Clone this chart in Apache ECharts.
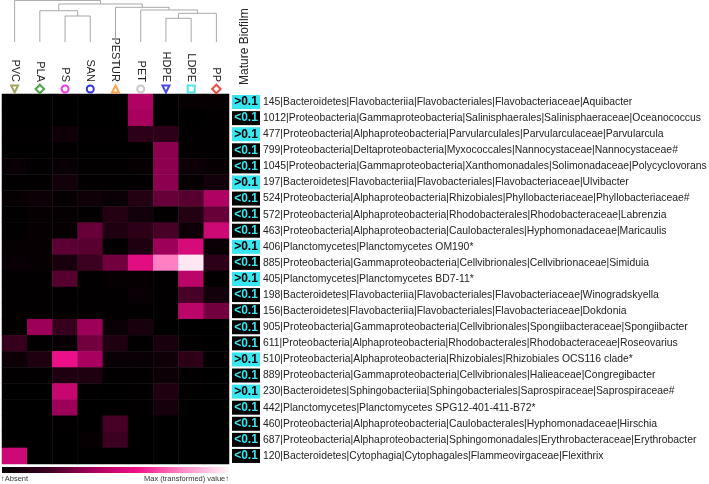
<!DOCTYPE html>
<html><head><meta charset="utf-8">
<script src="https://cdn.jsdelivr.net/npm/echarts@6/dist/echarts.min.js"></script>
<style>html,body{margin:0;padding:0;background:#fff}#c{width:709px;height:484px}</style>
</head><body><div id="c"></div>
<script>
const materials = ['PVC','PLA','PS','SAN','PESTUR','PET','HDPE','LDPE','PP'];
const matSymbols = ['triangle','rect','circle','circle','triangle','circle','triangle','rect','rect'];
const matRotate = [180,45,0,0,0,0,180,0,45];
const matColors = ['#8c8c40','#1e8c1e','#f000f0','#0000c8','#ff8c1a','#bcbcbc','#1a1ae8','#22dde8','#e82020'];
const taxa = [
 '145|Bacteroidetes|Flavobacteriia|Flavobacteriales|Flavobacteriaceae|Aquibacter',
 '1012|Proteobacteria|Gammaproteobacteria|Salinisphaerales|Salinisphaeraceae|Oceanococcus',
 '477|Proteobacteria|Alphaproteobacteria|Parvularculales|Parvularculaceae|Parvularcula',
 '799|Proteobacteria|Deltaproteobacteria|Myxococcales|Nannocystaceae|Nannocystaceae#',
 '1045|Proteobacteria|Gammaproteobacteria|Xanthomonadales|Solimonadaceae|Polycyclovorans',
 '197|Bacteroidetes|Flavobacteriia|Flavobacteriales|Flavobacteriaceae|Ulvibacter',
 '524|Proteobacteria|Alphaproteobacteria|Rhizobiales|Phyllobacteriaceae|Phyllobacteriaceae#',
 '572|Proteobacteria|Alphaproteobacteria|Rhodobacterales|Rhodobacteraceae|Labrenzia',
 '463|Proteobacteria|Alphaproteobacteria|Caulobacterales|Hyphomonadaceae|Maricaulis',
 '406|Planctomycetes|Planctomycetes OM190*',
 '885|Proteobacteria|Gammaproteobacteria|Cellvibrionales|Cellvibrionaceae|Simiduia',
 '405|Planctomycetes|Planctomycetes BD7-11*',
 '198|Bacteroidetes|Flavobacteriia|Flavobacteriales|Flavobacteriaceae|Winogradskyella',
 '156|Bacteroidetes|Flavobacteriia|Flavobacteriales|Flavobacteriaceae|Dokdonia',
 '905|Proteobacteria|Gammaproteobacteria|Cellvibrionales|Spongiibacteraceae|Spongiibacter',
 '611|Proteobacteria|Alphaproteobacteria|Rhodobacterales|Rhodobacteraceae|Roseovarius',
 '510|Proteobacteria|Alphaproteobacteria|Rhizobiales|Rhizobiales OCS116 clade*',
 '889|Proteobacteria|Gammaproteobacteria|Cellvibrionales|Halieaceae|Congregibacter',
 '230|Bacteroidetes|Sphingobacteriia|Sphingobacteriales|Saprospiraceae|Saprospiraceae#',
 '442|Planctomycetes|Planctomycetes SPG12-401-411-B72*',
 '460|Proteobacteria|Alphaproteobacteria|Caulobacterales|Hyphomonadaceae|Hirschia',
 '687|Proteobacteria|Alphaproteobacteria|Sphingomonadales|Erythrobacteraceae|Erythrobacter',
 '120|Bacteroidetes|Cytophagia|Cytophagales|Flammeovirgaceae|Flexithrix'
];
const mature = ['>0.1','<0.1','>0.1','<0.1','<0.1','>0.1','<0.1','<0.1','<0.1','>0.1','<0.1','>0.1',
                '<0.1','<0.1','<0.1','<0.1','>0.1','<0.1','>0.1','<0.1','<0.1','<0.1','<0.1'];
// per-material values (transformed abundance, 0..1), rows top to bottom
const PVC    = [0,0,0.01,0,0.03,0.01,0.02,0.01,0.01,0.02,0.03,0.01,0.01,0.01,0.01,0.18,0.04,0.01,0,0,0,0,0.5];
const PLA    = [0,0,0.01,0,0.01,0.01,0.04,0.02,0.02,0.02,0.02,0.01,0.01,0.01,0.38,0.01,0.1,0.01,0,0,0,0,0];
const PS     = [0,0,0.05,0.01,0.03,0.06,0.02,0.02,0.02,0.26,0.08,0.25,0.01,0.01,0.18,0.03,0.58,0.1,0.48,0.38,0.01,0,0];
const SAN    = [0,0,0.01,0,0.01,0.01,0.05,0.01,0.28,0.25,0.2,0.01,0.01,0.01,0.38,0.3,0.4,0.1,0.01,0,0,0.02,0];
const PESTUR = [0,0,0.01,0,0.01,0.01,0.03,0.12,0.1,0.01,0.3,0.02,0.01,0.01,0.03,0.1,0.03,0.01,0,0,0.22,0.2,0];
const PET    = [0.42,0.4,0.15,0,0.02,0.01,0.12,0.06,0.15,0.1,0.55,0.02,0.03,0.01,0.08,0.01,0.03,0.01,0.01,0.01,0,0,0];
const HDPE   = [0,0,0.15,0.35,0.35,0.35,0.28,0.01,0.22,0.38,0.78,0.01,0.01,0.01,0,0.08,0.05,0.04,0.1,0.07,0,0,0];
const LDPE   = [0.02,0,0.01,0.01,0.04,0.02,0.25,0.12,0.04,0.52,0.97,0.45,0.22,0.45,0,0.01,0.15,0.01,0.01,0,0,0,0];
const PP     = [0.02,0.01,0.01,0.01,0.02,0.06,0.42,0.28,0.5,0.03,0.15,0.01,0.06,0.3,0,0,0.01,0,0,0,0,0,0];
const columns = [PVC, PLA, PS, SAN, PESTUR, PET, HDPE, LDPE, PP];
// dendrogram merges: [childA, childB, height]; children: leaf index (number) or merge id (string)
const merges = {
  A: [6, 7, 0.564], B: ['A', 8, 0.683], C: [5, 'B', 0.762], D: [4, 'C', 0.826],
  E: [2, 3, 0.619], F: [1, 'E', 0.745], G: ['F', 'D', 0.905], H: [0, 'G', 0.99]
};
const palette = ['#000000','#3c0020','#a8005e','#f2128b','#ff8cc8','#fff6fb'];

const heatData = [];
columns.forEach((col, c) => col.forEach((v, r) => heatData.push([c, r, v])));

function nodePos(k) {
  if (typeof k === 'number') return [k, 0];
  const m = merges[k];
  const a = nodePos(m[0]), b = nodePos(m[1]);
  return [(a[0] + b[0]) / 2, m[2]];
}
const dendroSeries = Object.keys(merges).map(k => {
  const m = merges[k];
  const a = nodePos(m[0]), b = nodePos(m[1]);
  return {
    type: 'line', xAxisIndex: 2, yAxisIndex: 2, symbol: 'none', silent: true,
    lineStyle: { color: '#a8a8a8', width: 1 },
    data: [[a[0], a[1]], [a[0], m[2]], [b[0], m[2]], [b[0], b[1]]]
  };
});

const font = 'Liberation Sans, Arial, sans-serif';
const chart = echarts.init(document.getElementById('c'));
const gridBase = { outerBoundsMode: 'none', containLabel: false };
chart.setOption({
  animation: false,
  backgroundColor: '#ffffff',
  grid: [
    Object.assign({ left: 2, top: 94, width: 227, height: 370 }, gridBase),
    Object.assign({ left: 2, top: 84, width: 227, height: 10 }, gridBase),
    Object.assign({ left: 2, top: 0, width: 227, height: 42 }, gridBase)
  ],
  xAxis: [
    { type: 'category', gridIndex: 0, data: materials, position: 'top',
      axisLine: { show: false }, axisTick: { show: false }, splitLine: { show: false },
      axisLabel: { rotate: 90, margin: 12, fontSize: 11, color: '#222', fontFamily: font } },
    { type: 'category', gridIndex: 1, data: materials, show: false },
    { type: 'value', gridIndex: 2, min: -0.5, max: 8.5, show: false }
  ],
  yAxis: [
    { type: 'category', gridIndex: 0, data: taxa, inverse: true, position: 'right',
      axisLine: { show: false }, axisTick: { show: false }, splitLine: { show: false },
      axisLabel: {
        margin: 3, fontFamily: font,
        formatter: (val, idx) => (mature[idx] === '>0.1' ? '{hi|>0.1}' : '{lo|<0.1}') + '{t|' + val + '}',
        rich: {
          hi: { backgroundColor: '#36e6f0', color: '#000', fontWeight: 'bold', fontSize: 12, width: 28, height: 14, lineHeight: 14, align: 'center', fontFamily: font },
          lo: { backgroundColor: '#000', color: '#36e6f0', fontWeight: 'bold', fontSize: 12, width: 28, height: 14, lineHeight: 14, align: 'center', fontFamily: font },
          t: { fontSize: 10.4, color: '#222', padding: [0, 0, 0, 3], fontFamily: font }
        }
      } },
    { type: 'value', gridIndex: 1, min: -1, max: 1, show: false },
    { type: 'value', gridIndex: 2, min: 0, max: 1, show: false }
  ],
  visualMap: { show: false, min: 0, max: 1, dimension: 2, seriesIndex: 0, inRange: { color: palette } },
  series: [
    { type: 'heatmap', xAxisIndex: 0, yAxisIndex: 0, data: heatData, silent: true,
      itemStyle: { borderWidth: 0 } },
    { type: 'scatter', xAxisIndex: 1, yAxisIndex: 1, silent: true,
      data: materials.map((m, i) => ({
        value: [i, 0], symbol: matSymbols[i], symbolRotate: matRotate[i],
        symbolSize: matSymbols[i] === 'rect' && matRotate[i] === 45 ? 6 : 7,
        itemStyle: { color: '#ffffff', borderColor: matColors[i], borderWidth: 2 }
      })) }
  ].concat(dendroSeries),
  graphic: [
    { type: 'text', x: 245, y: 85, rotation: Math.PI / 2,
      style: { text: 'Mature Biofilm', fill: '#222', font: '12px ' + font, textAlign: 'left', textVerticalAlign: 'middle' } },
    { type: 'rect', shape: { x: 2, y: 467, width: 227, height: 6 },
      style: { fill: new echarts.graphic.LinearGradient(0, 0, 1, 0,
        palette.map((c, i) => ({ offset: i / (palette.length - 1), color: c }))) } },
    { type: 'text', x: 1, y: 479, style: { text: '\u2191Absent', font: '7.5px ' + font, fill: '#333', textVerticalAlign: 'middle' } },
    { type: 'text', x: 229, y: 479, style: { text: 'Max (transformed) value\u2191', font: '7.5px ' + font, fill: '#333', textAlign: 'right', textVerticalAlign: 'middle' } }
  ]
});
</script></body></html>
